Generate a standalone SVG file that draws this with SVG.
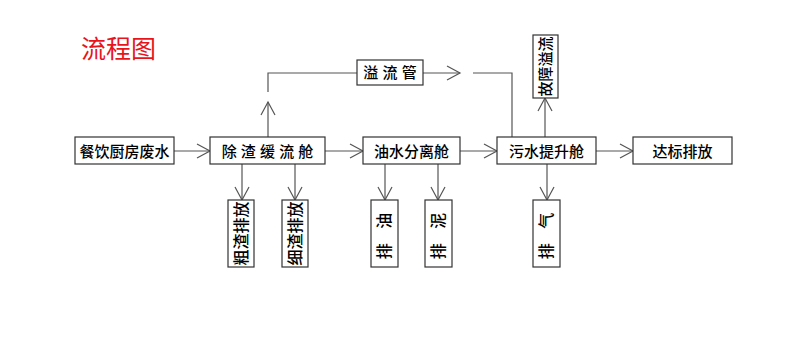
<svg xmlns="http://www.w3.org/2000/svg" width="790" height="349" viewBox="0 0 790 349">
<style>
.box{fill:#fff;stroke:#333;stroke-width:1.2}
.t{font-family:"Liberation Sans","Noto Sans CJK SC",sans-serif;font-size:15px;font-weight:500;fill:#000;text-anchor:middle;dominant-baseline:central}
.v{font-size:16px}
.ln{fill:none;stroke:#555;stroke-width:1.2}
.ttl{font-family:"Liberation Sans","Noto Sans CJK SC",sans-serif;font-size:25px;fill:#e8141b}
</style>
<defs>
<marker id="ah" markerUnits="userSpaceOnUse" markerWidth="16" markerHeight="18" refX="14" refY="8" orient="auto" viewBox="0 0 16 16" overflow="visible">
<path d="M1,1 L14,8 L1,15" fill="none" stroke="#555" stroke-width="1.2"/>
</marker>
</defs>
<rect width="790" height="349" fill="#fff"/>
<text class="ttl" x="81" y="58">流程图</text>
<g id="connectors">
<line class="ln" x1="174" y1="151" x2="210" y2="151" marker-end="url(#ah)"/>
<line class="ln" x1="325" y1="151" x2="363" y2="151" marker-end="url(#ah)"/>
<line class="ln" x1="460" y1="151" x2="497" y2="151" marker-end="url(#ah)"/>
<line class="ln" x1="596" y1="151" x2="633" y2="151" marker-end="url(#ah)"/>
<line class="ln" x1="268" y1="137" x2="268" y2="102" marker-end="url(#ah)"/>
<polyline class="ln" points="268,92 268,73 357,73"/>
<line class="ln" x1="423" y1="73" x2="460" y2="73" marker-end="url(#ah)"/>
<polyline class="ln" points="473,73 512,73 512,137"/>
<line class="ln" x1="545" y1="137" x2="545" y2="98" marker-end="url(#ah)"/>
<line class="ln" x1="242" y1="164" x2="242" y2="200" marker-end="url(#ah)"/>
<line class="ln" x1="295" y1="164" x2="295" y2="200" marker-end="url(#ah)"/>
<line class="ln" x1="385" y1="164" x2="385" y2="200" marker-end="url(#ah)"/>
<line class="ln" x1="438" y1="164" x2="438" y2="200" marker-end="url(#ah)"/>
<line class="ln" x1="547" y1="164" x2="547" y2="200" marker-end="url(#ah)"/>
</g>
<g id="n1"><rect class="box" x="75" y="137" width="99" height="27"/><text class="t" x="124.5" y="151">餐饮厨房废水</text></g>
<g id="n2"><rect class="box" x="210" y="137" width="115" height="27"/><text class="t" x="267.5" y="151">除 渣 缓 流 舱</text></g>
<g id="n3"><rect class="box" x="363" y="137" width="97" height="27"/><text class="t" x="411.5" y="151">油水分离舱</text></g>
<g id="n4"><rect class="box" x="497" y="137" width="99" height="27"/><text class="t" x="546.5" y="151">污水提升舱</text></g>
<g id="n5"><rect class="box" x="633" y="137" width="99" height="27"/><text class="t" x="682.5" y="151">达标排放</text></g>
<g id="n6"><rect class="box" x="357" y="60" width="66" height="25"/><text class="t" x="390" y="72.5">溢 流 管</text></g>
<g id="n7"><rect class="box" x="533" y="35" width="25" height="63"/><text class="t" transform="translate(545.5,66.5) rotate(-90)">故障溢流</text></g>
<g id="n8"><rect class="box" x="228" y="200" width="26" height="67"/><text class="t v" transform="translate(241,233.5) rotate(-90)">粗渣排放</text></g>
<g id="n9"><rect class="box" x="282" y="200" width="26" height="67"/><text class="t v" transform="translate(295,233.5) rotate(-90)">细渣排放</text></g>
<g id="n10"><rect class="box" x="371" y="200" width="27" height="67"/><text class="t v" transform="translate(384.5,233.5) rotate(-90)" letter-spacing="5">排 油</text></g>
<g id="n11"><rect class="box" x="425" y="200" width="27" height="67"/><text class="t v" transform="translate(438.5,233.5) rotate(-90)" letter-spacing="5">排 泥</text></g>
<g id="n12"><rect class="box" x="533" y="200" width="27" height="67"/><text class="t v" transform="translate(546.5,233.5) rotate(-90)" letter-spacing="5">排 气</text></g>
</svg>
